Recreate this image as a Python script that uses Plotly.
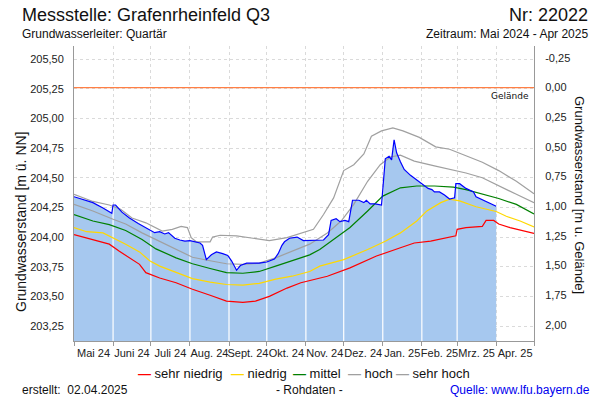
import numpy as np
import pandas as pd
import plotly.graph_objects as go

# Messstelle Grafenrheinfeld Q3, Rohdaten (m ü. NN)
mess_datum = [
    "2024-05-01", "2024-05-09", "2024-05-16", "2024-05-24", "2024-05-29", "2024-05-31",
    "2024-06-01", "2024-06-03", "2024-06-08", "2024-06-14", "2024-06-21", "2024-06-30",
    "2024-07-04", "2024-07-08", "2024-07-12", "2024-07-15", "2024-07-20", "2024-07-24",
    "2024-07-28", "2024-08-01", "2024-08-09", "2024-08-11", "2024-08-14", "2024-08-18",
    "2024-08-22", "2024-08-27", "2024-08-31", "2024-09-03", "2024-09-07", "2024-09-10",
    "2024-09-15", "2024-09-25", "2024-10-01", "2024-10-07", "2024-10-10", "2024-10-13",
    "2024-10-15", "2024-10-19", "2024-10-25", "2024-10-30", "2024-11-04", "2024-11-15",
    "2024-11-19", "2024-11-21", "2024-11-25", "2024-11-28", "2024-12-02", "2024-12-05",
    "2024-12-08", "2024-12-13", "2024-12-17", "2024-12-19", "2024-12-22", "2024-12-26",
    "2024-12-31", "2025-01-01", "2025-01-03", "2025-01-06", "2025-01-08", "2025-01-10",
    "2025-01-12", "2025-01-15", "2025-01-18", "2025-01-23", "2025-01-28", "2025-02-01",
    "2025-02-06", "2025-02-09", "2025-02-11", "2025-02-15", "2025-02-19", "2025-02-23",
    "2025-02-27", "2025-02-28", "2025-03-03", "2025-03-08", "2025-03-14", "2025-03-16",
    "2025-03-20", "2025-03-24", "2025-03-28", "2025-04-01",
]
mess_wert = [
    204.34, 204.31, 204.29, 204.245, 204.21, 204.20,
    204.27, 204.27, 204.21, 204.16, 204.115, 204.06,
    204.037, 204.045, 204.026, 204.037, 203.99, 203.975,
    203.965, 203.97, 203.95, 203.93, 203.81, 203.85,
    203.875, 203.86, 203.845, 203.80, 203.72, 203.76,
    203.78, 203.78, 203.79, 203.815, 203.86, 203.93,
    203.96, 203.99, 204.00, 203.97, 203.97, 203.975,
    204.02, 204.14, 204.155, 204.13, 204.14, 204.13,
    204.31, 204.31, 204.29, 204.31, 204.28, 204.28,
    204.27, 204.42, 204.66, 204.68, 204.65, 204.82,
    204.71, 204.635, 204.57, 204.52, 204.48, 204.45,
    204.41, 204.40, 204.38, 204.38, 204.355, 204.32,
    204.33, 204.45, 204.45, 204.41, 204.38, 204.34,
    204.32, 204.30, 204.28, 204.26,
]

# Vergleichskurven
sehr_niedrig_datum = [
    "2024-05-01", "2024-05-16", "2024-05-29", "2024-06-06", "2024-06-14", "2024-06-22",
    "2024-06-27", "2024-07-08", "2024-07-21", "2024-08-03", "2024-08-17", "2024-08-30",
    "2024-09-12", "2024-09-22", "2024-10-03", "2024-10-17", "2024-10-28", "2024-11-18",
    "2024-12-06", "2024-12-27", "2025-01-15", "2025-01-26", "2025-02-08", "2025-02-21",
    "2025-02-28", "2025-03-01", "2025-03-08", "2025-03-21", "2025-03-24", "2025-03-30",
    "2025-04-03", "2025-04-12", "2025-04-25", "2025-05-01",
]
sehr_niedrig_wert = [
    204.02, 203.98, 203.94, 203.88, 203.825, 203.77,
    203.70, 203.655, 203.615, 203.56, 203.51, 203.46,
    203.45, 203.46, 203.50, 203.57, 203.615, 203.67,
    203.74, 203.84, 203.91, 203.95, 203.965, 203.995,
    204.01, 204.065, 204.08, 204.09, 204.14, 204.14,
    204.11, 204.08, 204.045, 204.03,
]

niedrig_datum = [
    "2024-05-01", "2024-05-11", "2024-05-24", "2024-06-01", "2024-06-11", "2024-06-22",
    "2024-06-30", "2024-07-08", "2024-07-21", "2024-08-03", "2024-08-17", "2024-08-30",
    "2024-09-12", "2024-09-25", "2024-10-08", "2024-10-21", "2024-11-04", "2024-11-12",
    "2024-12-01", "2024-12-20", "2025-01-03", "2025-01-15", "2025-01-28", "2025-02-05",
    "2025-02-16", "2025-02-23", "2025-03-03", "2025-03-16", "2025-04-01", "2025-04-09",
    "2025-04-20", "2025-05-01",
]
niedrig_wert = [
    204.08, 204.045, 204.035, 203.995, 203.94, 203.875,
    203.80, 203.755, 203.70, 203.65, 203.62, 203.60,
    203.595, 203.61, 203.645, 203.67, 203.71, 203.755,
    203.81, 203.895, 203.965, 204.035, 204.135, 204.22,
    204.29, 204.32, 204.305, 204.255, 204.215, 204.175,
    204.135, 204.085,
]

mittel_datum = [
    "2024-05-01", "2024-05-16", "2024-05-29", "2024-06-11", "2024-06-24", "2024-07-05",
    "2024-07-21", "2024-08-03", "2024-08-17", "2024-08-30", "2024-09-12", "2024-09-25",
    "2024-10-08", "2024-10-21", "2024-11-04", "2024-11-12", "2024-11-23", "2024-12-06",
    "2024-12-20", "2025-01-01", "2025-01-15", "2025-01-28", "2025-02-11", "2025-02-26",
    "2025-03-08", "2025-03-21", "2025-04-03", "2025-04-17", "2025-05-01",
]
mittel_wert = [
    204.19, 204.135, 204.105, 204.055, 203.98, 203.90,
    203.825, 203.775, 203.735, 203.70, 203.695, 203.71,
    203.755, 203.80, 203.85, 203.895, 203.98, 204.08,
    204.22, 204.345, 204.415, 204.43, 204.43, 204.42,
    204.40, 204.36, 204.325, 204.275, 204.195,
]

hoch_datum = [
    "2024-05-01", "2024-05-16", "2024-06-01", "2024-06-11", "2024-06-24", "2024-07-08",
    "2024-07-21", "2024-08-03", "2024-08-17", "2024-08-30", "2024-09-12", "2024-09-25",
    "2024-10-08", "2024-10-21", "2024-11-04", "2024-11-18", "2024-11-29", "2024-12-09",
    "2024-12-20", "2024-12-30", "2025-01-07", "2025-01-15", "2025-01-26", "2025-02-11",
    "2025-02-23", "2025-03-08", "2025-03-21", "2025-04-03", "2025-04-17", "2025-05-01",
]
hoch_wert = [
    204.275, 204.22, 204.15, 204.11, 204.035, 203.965,
    203.90, 203.83, 203.80, 203.775, 203.77, 203.78,
    203.825, 203.88, 203.94, 204.035, 204.135, 204.275,
    204.47, 204.61, 204.675, 204.69, 204.64, 204.60,
    204.57, 204.54, 204.50, 204.43, 204.36, 204.29,
]

sehr_hoch_datum = [
    "2024-05-01", "2024-05-16", "2024-05-29", "2024-06-07", "2024-06-16", "2024-06-27",
    "2024-07-10", "2024-07-18", "2024-07-25", "2024-07-30", "2024-08-02", "2024-08-06",
    "2024-08-17", "2024-08-19", "2024-08-25", "2024-09-07", "2024-09-20", "2024-10-03",
    "2024-10-17", "2024-10-28", "2024-11-07", "2024-11-15", "2024-11-23", "2024-12-01",
    "2024-12-09", "2024-12-17", "2024-12-23", "2024-12-31", "2025-01-09", "2025-01-17",
    "2025-01-30", "2025-02-12", "2025-02-23", "2025-03-08", "2025-03-21", "2025-04-03",
    "2025-04-17", "2025-05-01",
]
sehr_hoch_wert = [
    204.36, 204.30, 204.27, 204.235, 204.16, 204.12,
    204.05, 204.065, 204.09, 204.08, 203.995, 203.96,
    203.96, 204.00, 204.015, 204.01, 203.99, 203.97,
    203.995, 204.03, 204.065, 204.19, 204.33, 204.56,
    204.61, 204.70, 204.85, 204.895, 204.92, 204.895,
    204.84, 204.76, 204.74, 204.685, 204.63, 204.56,
    204.47, 204.365,
]

monate = ["Mai 24", "Juni 24", "Juli 24", "Aug. 24", "Sept. 24", "Okt. 24",
          "Nov. 24", "Dez. 24", "Jan. 25", "Feb. 25", "Mrz. 25", "Apr. 25"]

gelaende = 205.26          # Geländehöhe m ü. NN
y_min, y_max = 203.124, 205.61
tiefe_ticks = [-0.25, 0.0, 0.25, 0.5, 0.75, 1.0, 1.25, 1.5, 1.75, 2.0]

schrift = "Liberation Sans, Arial, sans-serif"

monat_start = pd.date_range("2024-05-01", "2025-05-01", freq="MS")
monat_mitte = monat_start[:-1] + (monat_start[1:] - monat_start[:-1]) / 2

# weisse Gitterlinien innerhalb der Fläche
mess_ts = pd.to_datetime(mess_datum)
gx, gy = [], []
for d in monat_start[1:]:
    if d < mess_ts[-1]:
        w = np.interp(d.value, mess_ts.asi8, mess_wert)
        gx += [d, d, None]
        gy += [y_min, w, None]

fig = go.Figure()

fig.add_trace(go.Scatter(x=mess_datum, y=mess_wert, mode="lines", fill="tozeroy",
                         fillcolor="#a6c8ef", line=dict(width=0), hoverinfo="skip",
                         showlegend=False))
fig.add_trace(go.Scatter(x=gx, y=gy, mode="lines", line=dict(color="#ffffff", width=1.2),
                         hoverinfo="skip", showlegend=False))

kurven = [
    ("sehr niedrig", sehr_niedrig_datum, sehr_niedrig_wert, "#ff0000"),
    ("niedrig", niedrig_datum, niedrig_wert, "#ffd800"),
    ("mittel", mittel_datum, mittel_wert, "#008000"),
    ("hoch", hoch_datum, hoch_wert, "#a0a0a0"),
    ("sehr hoch", sehr_hoch_datum, sehr_hoch_wert, "#a0a0a0"),
]
for name, dat, wert, farbe in kurven:
    fig.add_trace(go.Scatter(x=dat, y=wert, mode="lines", name=name,
                             line=dict(color=farbe, width=1.2), showlegend=False))

fig.add_trace(go.Scatter(x=mess_datum, y=mess_wert, mode="lines", name="Messwerte",
                         line=dict(color="#0000ff", width=1.2), showlegend=False))

# Gelände (0,00 m u. Gelände) auf der rechten Achse
fig.add_trace(go.Scatter(x=[monat_start[0], monat_start[-1]], y=[0.0, 0.0], yaxis="y2",
                         mode="lines", line=dict(color="#ff7f45", width=1.2),
                         hoverinfo="skip", showlegend=False))


def px(x):
    return (x - 74) / 460


def py(y):
    return (341 - y) / 295


ann = [
    dict(text="Messstelle: Grafenrheinfeld Q3", x=px(20), y=py(15), xanchor="left",
         font=dict(size=18)),
    dict(text="Nr: 22022", x=px(590), y=py(15), xanchor="right", font=dict(size=18)),
    dict(text="Grundwasserleiter: Quartär", x=px(20), y=py(34), xanchor="left",
         font=dict(size=12)),
    dict(text="Zeitraum: Mai 2024 - Apr 2025", x=px(590), y=py(34), xanchor="right",
         font=dict(size=12)),
    dict(text="Grundwasserstand [m ü. NN]", x=px(21), y=py(222), textangle=-90,
         font=dict(size=14)),
    dict(text="Grundwasserstand [m u. Gelände]", x=px(580), y=py(195), textangle=90,
         font=dict(size=13)),
    dict(text="Gelände", x=px(531), y=py(96), xanchor="right",
         font=dict(size=9, family="DejaVu Sans")),
    dict(text="erstellt:\u00a0 02.04.2025", x=px(20), y=py(390), xanchor="left",
         font=dict(size=12)),
    dict(text="- Rohdaten -", x=px(309), y=py(390), font=dict(size=12)),
    dict(text="Quelle: www.lfu.bayern.de", x=px(592), y=py(390), xanchor="right",
         font=dict(size=12, color="#0000ee")),
]
leg_x = [136, 229, 291, 346, 394]
for (name, _, _, farbe), lx in zip(kurven, leg_x):
    ann.append(dict(text=f"<span style='color:{farbe}'><b>—</b></span> {name}", x=px(lx),
                    y=py(373), xanchor="left", font=dict(size=13)))
for a in ann:
    a.update(xref="paper", yref="paper", showarrow=False, yanchor="middle")
    a.setdefault("xanchor", "center")

achse = dict(showline=True, linecolor="#999999", linewidth=1, zeroline=False,
             automargin=False, tickfont=dict(size=11, color="#222222"))

fig.update_layout(
    width=600, height=400,
    margin=dict(l=74, r=66, t=46, b=59, autoexpand=False),
    paper_bgcolor="white", plot_bgcolor="white",
    font=dict(family=schrift, color="#111111"),
    separators=",.",
    showlegend=False,
    annotations=ann,
    xaxis=dict(
        type="date", range=[monat_start[0], monat_start[-1]],
        tickmode="array", tickvals=monat_mitte, ticktext=monate, ticks="",
        tickangle=0, showgrid=False, ticklabelstandoff=2,
        minor=dict(tickmode="array", tickvals=monat_start, ticks="outside", ticklen=4,
                   tickcolor="#999999", showgrid=True, gridcolor="#dadada",
                   griddash="3px,3px"),
        **achse,
    ),
    yaxis=dict(
        range=[y_min, y_max], tickmode="linear", tick0=203.25, dtick=0.25,
        tickformat=".2f", ticks="", ticklabelstandoff=7,
        showgrid=True, gridcolor="#dadada", griddash="3px,3px",
        **achse,
    ),
    yaxis2=dict(
        overlaying="y", side="right", range=[gelaende - y_min, gelaende - y_max],
        tickmode="array", tickvals=tiefe_ticks,
        ticktext=[f"{v:.2f}".replace(".", ",") for v in tiefe_ticks],
        ticks="", ticklabelstandoff=8, showgrid=False,
        **achse,
    ),
)

# Seitenrand des Browsers entfernen, damit die Grafik bei (0,0) beginnt
fig.write_html("out.html", config={"displayModeBar": False},
               post_script="document.body.style.margin='0';")
